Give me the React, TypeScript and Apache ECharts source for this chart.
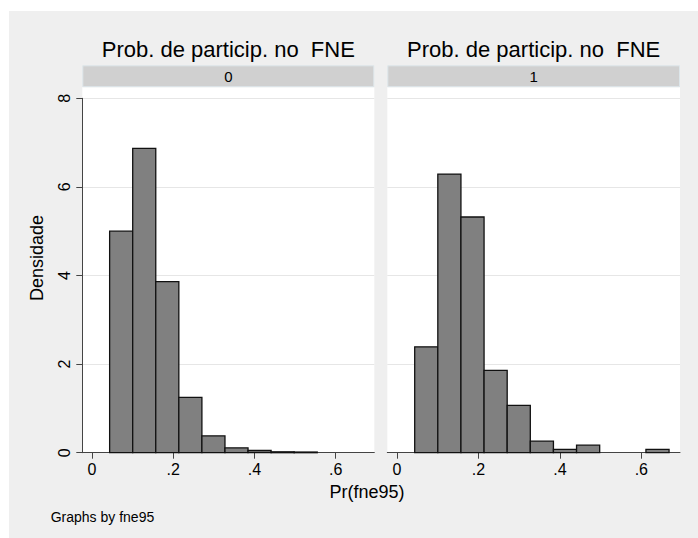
import React, { useEffect, useRef } from "react";
import * as echarts from "echarts";

// Histogram bins (shared binning for both panels)
const binStart = 0.0433;
const binWidth = 0.0568;
// Density per bin, panel fne95 = 0
const densityGroup0 = [5.0, 6.87, 3.86, 1.25, 0.38, 0.11, 0.05, 0.02, 0.015];
// Density per bin, panel fne95 = 1
const densityGroup1 = [2.39, 6.29, 5.32, 1.86, 1.07, 0.26, 0.075, 0.17, 0, 0, 0.075];

const panelLabels = ["0", "1"];
const panelTitle = "Prob. de particip. no  FNE";
const xTickValues = [0, 0.2, 0.4, 0.6];
const xTickLabels = ["0", ".2", ".4", ".6"];
const yTickValues = [0, 2, 4, 6, 8];
const xTitle = "Pr(fne95)";
const yTitle = "Densidade";
const note = "Graphs by fne95";

const FONT = "'Liberation Sans', Arial, Helvetica, sans-serif";

function toBins(d: number[]) {
  const out: number[][] = [];
  d.forEach((v, i) => {
    if (v > 0) out.push([binStart + i * binWidth, binStart + (i + 1) * binWidth, v]);
  });
  return out;
}

export default function App() {
  const ref = useRef<HTMLDivElement>(null);
  useEffect(() => {
    if (!ref.current) return;
    const chart = echarts.init(ref.current, null, { renderer: "svg" });

    const panels = [
      { left: 82.3, width: 292 },
      { left: 387.3, width: 292.7 },
    ];
    const plotTop = 98.3;
    const plotBottom = 452.7;
    const stripTop = 65.3;
    const stripBottom = 87.2;

    const graphic: any[] = [
      { type: "rect", z: -10, shape: { x: 9, y: 11, width: 689, height: 527 }, style: { fill: "#efefef" }, silent: true },
    ];
    panels.forEach((p, i) => {
      graphic.push({
        type: "rect", z: -9,
        shape: { x: p.left, y: stripBottom, width: p.width, height: plotBottom - stripBottom },
        style: { fill: "#ffffff" }, silent: true,
      });
      graphic.push({
        type: "rect", z: -9,
        shape: { x: p.left + 0.5, y: stripTop + 0.5, width: p.width - 1, height: stripBottom - stripTop - 1 },
        style: { fill: "#d0d0d0", stroke: "#dde6ea", lineWidth: 1 }, silent: true,
      });
      graphic.push({
        type: "text",
        x: p.left + p.width / 2, y: (stripTop + stripBottom) / 2,
        style: { text: panelLabels[i], font: `15px ${FONT}`, fill: "#000", align: "center", verticalAlign: "middle" },
      });
      graphic.push({
        type: "text",
        x: p.left + p.width / 2, y: 49.5,
        style: { text: panelTitle, font: `22px ${FONT}`, fill: "#000", align: "center", verticalAlign: "middle" },
      });
    });
    graphic.push({
      type: "text", x: 367, y: 492,
      style: { text: xTitle, font: `18px ${FONT}`, fill: "#000", align: "center", verticalAlign: "middle" },
    });
    graphic.push({
      type: "text", x: 37, y: 258, rotation: Math.PI / 2,
      style: { text: yTitle, font: `18px ${FONT}`, fill: "#000", align: "center", verticalAlign: "middle" },
    });
    graphic.push({
      type: "text", x: 50.7, y: 517,
      style: { text: note, font: `14px ${FONT}`, fill: "#000", align: "left", verticalAlign: "middle" },
    });

    const grids = panels.map((p) => ({
      left: p.left, top: plotTop, width: p.width, height: plotBottom - plotTop, containLabel: false,
    }));

    const xAxes = panels.map((_, i) => ({
      type: "value", gridIndex: i, min: -0.024, max: 0.695,
      axisLine: { show: true, onZero: false, lineStyle: { color: "#444", width: 1 } },
      axisTick: { show: true, length: 6, lineStyle: { color: "#444" }, customValues: xTickValues },
      axisLabel: {
        show: true, margin: 9, fontSize: 16, fontFamily: FONT, color: "#000",
        customValues: xTickValues,
        formatter: (v: number) => {
          const k = xTickValues.findIndex((t) => Math.abs(t - v) < 1e-6);
          return k >= 0 ? xTickLabels[k] : "";
        },
      },
      splitLine: { show: false },
    }));

    const yAxes = panels.map((_, i) => ({
      type: "value", gridIndex: i, min: 0, max: 8, interval: 2,
      axisLine: { show: i === 0, onZero: false, lineStyle: { color: "#444", width: 1 } },
      axisTick: { show: i === 0, length: 6, lineStyle: { color: "#444" } },
      axisLabel: {
        show: i === 0, rotate: 90, margin: 10, fontSize: 16, fontFamily: FONT, color: "#000",
        formatter: (v: number) => (yTickValues.includes(v) ? String(v) : ""),
      },
      splitLine: { show: true, lineStyle: { color: "#e6e6e6", width: 1 } },
    }));

    const renderItem = (params: any, api: any) => {
      const x0 = api.value(0);
      const x1 = api.value(1);
      const h = api.value(2);
      const p0 = api.coord([x0, h]);
      const p1 = api.coord([x1, 0]);
      return {
        type: "rect",
        shape: { x: p0[0], y: p0[1], width: p1[0] - p0[0], height: p1[1] - p0[1] },
        style: { fill: "#808080", stroke: "#111111", lineWidth: 1.3 },
      };
    };

    const series = [densityGroup0, densityGroup1].map((d, i) => ({
      type: "custom", xAxisIndex: i, yAxisIndex: i,
      data: toBins(d), encode: { x: [0, 1], y: 2 }, renderItem,
    }));

    chart.setOption({
      animation: false,
      backgroundColor: "#ffffff",
      graphic,
      grid: grids,
      xAxis: xAxes,
      yAxis: yAxes,
      series,
    } as any);

    return () => chart.dispose();
  }, []);

  return <div ref={ref} style={{ position: "fixed", left: 0, top: 0, width: 698, height: 538 }} />;
}
